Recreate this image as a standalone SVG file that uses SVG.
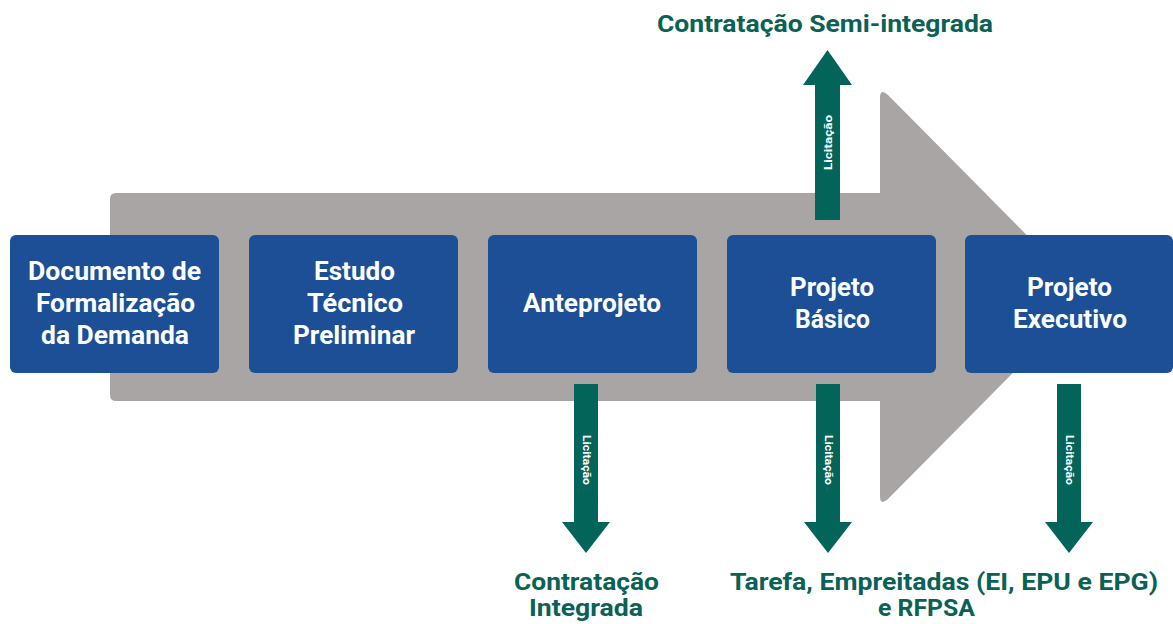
<svg xmlns="http://www.w3.org/2000/svg" width="1173" height="624" viewBox="0 0 1173 624">
<defs>
<style>
.box{fill:#1c4f96;}
.bt{font-family:Roboto,"Liberation Sans",sans-serif;font-weight:bold;font-size:25px;fill:#ffffff;text-anchor:middle;}
.gr{fill:#03655a;}
.lic{font-family:Roboto,"Liberation Sans",sans-serif;font-weight:bold;font-size:11px;fill:#ffffff;text-anchor:middle;}
.lab{font-family:Roboto,"Liberation Sans",sans-serif;font-weight:bold;font-size:24px;fill:#0a6156;text-anchor:middle;}
</style>
</defs>
<rect width="1173" height="624" fill="#ffffff"/>
<g id="flow-arrow">
<path d="M116,193 L880,193 L880,98 Q880,88 888,95 L1088,297 L888,499 Q880,506 880,496 L880,401 L116,401 Q110,401 110,395 L110,199 Q110,193 116,193 Z" fill="#a9a5a4"/>
</g>
<g id="n1"><rect class="box" x="10" y="235" width="209" height="138" rx="6"/>
<text class="bt" x="114.5" y="280" textLength="173" lengthAdjust="spacingAndGlyphs">Documento de</text><text class="bt" x="115.5" y="312" textLength="159" lengthAdjust="spacingAndGlyphs">Formalização</text><text class="bt" x="115" y="344" textLength="148" lengthAdjust="spacingAndGlyphs">da Demanda</text></g>
<g id="n2"><rect class="box" x="249" y="235" width="209" height="138" rx="6"/>
<text class="bt" x="354.5" y="280" textLength="81" lengthAdjust="spacingAndGlyphs">Estudo</text><text class="bt" x="355" y="312" textLength="96" lengthAdjust="spacingAndGlyphs">Técnico</text><text class="bt" x="354" y="344" textLength="122" lengthAdjust="spacingAndGlyphs">Preliminar</text></g>
<g id="n3"><rect class="box" x="488" y="235" width="209" height="138" rx="6"/>
<text class="bt" x="592" y="312" textLength="138" lengthAdjust="spacingAndGlyphs">Anteprojeto</text></g>
<g id="n4"><rect class="box" x="727" y="235" width="209" height="138" rx="6"/>
<text class="bt" x="832" y="296" textLength="84" lengthAdjust="spacingAndGlyphs">Projeto</text><text class="bt" x="832.5" y="328" textLength="75" lengthAdjust="spacingAndGlyphs">Básico</text></g>
<g id="n5"><rect class="box" x="965" y="235" width="208" height="138" rx="6"/>
<text class="bt" x="1069.5" y="296" textLength="85" lengthAdjust="spacingAndGlyphs">Projeto</text><text class="bt" x="1070" y="328" textLength="114" lengthAdjust="spacingAndGlyphs">Executivo</text></g>
<g id="connectors">
<path class="gr" d="M815,220 L815,85 L803,85 L827.5,50 L852,85 L840,85 L840,220 Z"/>
<text class="lic" transform="translate(831.5,142.5) rotate(-90)" textLength="55" lengthAdjust="spacingAndGlyphs">Licitação</text>
<path class="gr" d="M574,384 L598,384 L598,522 L610,522 L586,553 L562,522 L574,522 Z"/>
<text class="lic" transform="translate(582.5,460) rotate(90)" textLength="50" lengthAdjust="spacingAndGlyphs">Licitação</text>
<path class="gr" d="M816,384 L840,384 L840,522 L852,522 L828,553 L804,522 L816,522 Z"/>
<text class="lic" transform="translate(824.5,460) rotate(90)" textLength="50" lengthAdjust="spacingAndGlyphs">Licitação</text>
<path class="gr" d="M1057,384 L1081,384 L1081,522 L1093,522 L1069,553 L1045,522 L1057,522 Z"/>
<text class="lic" transform="translate(1065.5,460) rotate(90)" textLength="50" lengthAdjust="spacingAndGlyphs">Licitação</text>
</g>
<g id="labels">
<text class="lab" x="825" y="32" textLength="336" lengthAdjust="spacingAndGlyphs">Contratação Semi-integrada</text>
<text class="lab" x="586.5" y="590" textLength="145" lengthAdjust="spacingAndGlyphs">Contratação</text>
<text class="lab" x="586" y="616" textLength="114" lengthAdjust="spacingAndGlyphs">Integrada</text>
<text class="lab" x="944" y="590" textLength="428" lengthAdjust="spacingAndGlyphs">Tarefa, Empreitadas (EI, EPU e EPG)</text>
<text class="lab" x="926.5" y="616" textLength="97" lengthAdjust="spacingAndGlyphs">e RFPSA</text>
</g>
</svg>
